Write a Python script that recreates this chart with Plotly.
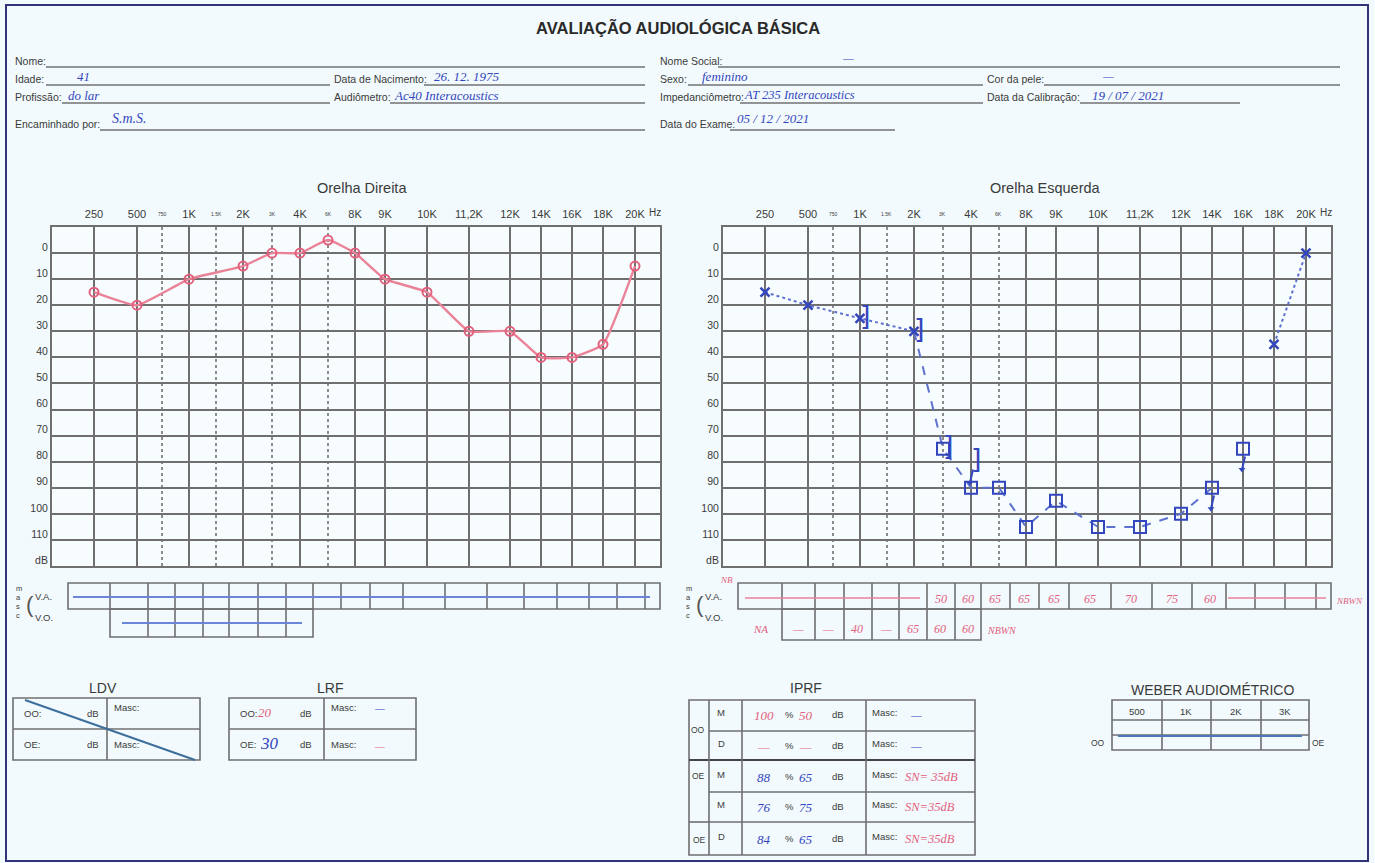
import plotly.graph_objects as go

# ---------------- DATA ----------------
freq_ticks = ["250", "500", "1K", "2K", "4K", "8K", "9K", "10K", "11,2K", "12K", "14K", "16K", "18K", "20K"]
freq_half = ["750", "1.5K", "3K", "6K"]
db_ticks = [-10, 0, 10, 20, 30, 40, 50, 60, 70, 80, 90, 100, 110, 120]
db_text = ["", "0", "10", "20", "30", "40", "50", "60", "70", "80", "90", "100", "110", "dB"]

# Right ear (Orelha Direita) - air conduction, unmasked (O)
od_freqs = ["250", "500", "1K", "2K", "3K", "4K", "6K", "8K", "9K", "10K", "11,2K", "12K", "14K", "16K", "18K", "20K"]
od_air = [15, 20, 10, 5, 0, 0, -5, 0, 10, 15, 30, 30, 40, 40, 35, 5]

# Left ear (Orelha Esquerda)
oe_x_freqs = ["250", "500", "1K", "2K", "18K", "20K"]          # air, unmasked (X)
oe_x_db = [15, 20, 25, 30, 35, 0]
oe_sq_freqs = ["3K", "4K", "6K", "8K", "9K", "10K", "11,2K", "12K", "14K", "16K"]  # air, masked
oe_sq_db = [75, 90, 90, 105, 95, 105, 105, 100, 90, 75]
oe_bc_freqs = ["1K", "2K", "3K", "4K"]                          # bone, masked ( ] )
oe_bc_db = [25, 30, 75, 80]
oe_nr_freqs = ["4K", "14K", "16K"]                              # no response
oe_nr_db = [80, 90, 75]
oe_low_path = ["250", "500", "1K", "2K"]
oe_low_db = [15, 20, 25, 30]
oe_mid_path = ["2K", "3K", "4K", "6K", "8K", "9K", "10K", "11,2K", "12K", "14K"]
oe_mid_db = [30, 75, 90, 90, 105, 95, 105, 105, 100, 90]
oe_high_path = ["18K", "20K"]
oe_high_db = [35, 0]

# ---------------- LAYOUT HELPERS ----------------
W, H = 1375, 863
FPOS = {"250": 42, "500": 85, "750": 110, "1K": 137, "1.5K": 164, "2K": 191, "3K": 220,
        "4K": 248, "6K": 276, "8K": 303, "9K": 333, "10K": 375, "11,2K": 417, "12K": 458,
        "14K": 489, "16K": 520, "18K": 551, "20K": 583}
XR = [0, 608]

RED = "#e2607c"
RED_L = "#ea8298"
BLUE = "#3346bd"
BLUE_L = "#5d72cf"
GRID = "#6f6f6f"
INK = "#3a3a3a"
FORM = "Liberation Sans, Arial, sans-serif"
HAND = "Liberation Serif, DejaVu Serif, serif"


def px(x):
    return x / W


def py(y):
    return 1 - y / H


def fx(names):
    return [FPOS[n] for n in names]


shapes = []
annots = []


def rect(x0, y0, x1, y1, color=GRID, width=1.6):
    shapes.append(dict(type="rect", xref="paper", yref="paper", x0=px(x0), x1=px(x1),
                       y0=py(y1), y1=py(y0), line=dict(color=color, width=width)))


def seg(x0, y0, x1, y1, color=GRID, width=1.6, dash="solid"):
    shapes.append(dict(type="line", xref="paper", yref="paper", x0=px(x0), x1=px(x1),
                       y0=py(y0), y1=py(y1), line=dict(color=color, width=width, dash=dash)))


def txt(x, y, s, size=10, color=INK, family=FORM, anchor="left", style="normal", weight="normal"):
    annots.append(dict(x=px(x), y=py(y), xref="paper", yref="paper", text=s, showarrow=False,
                       xanchor=anchor, yanchor="middle",
                       font=dict(size=size, color=color, family=family, style=style, weight=weight)))


def hand(x, y, s, color=BLUE, size=12, anchor="left"):
    txt(x, y, s, size=size, color=color, family=HAND, anchor=anchor, style="italic")


fig = go.Figure()

# ---------------- AUDIOGRAMS ----------------
fig.add_trace(go.Scatter(x=fx(od_freqs), y=od_air, mode="lines+markers", xaxis="x", yaxis="y",
                         line=dict(color=RED_L, width=2.4, shape="spline", smoothing=0.4),
                         marker=dict(symbol="circle-open", size=9, color=RED, line=dict(width=2, color=RED)),
                         showlegend=False))

fig.add_trace(go.Scatter(x=fx(oe_low_path), y=oe_low_db, mode="lines", xaxis="x2", yaxis="y2",
                         line=dict(color=BLUE_L, width=2, dash="dot"), showlegend=False))
fig.add_trace(go.Scatter(x=fx(oe_mid_path), y=oe_mid_db, mode="lines",
                         xaxis="x2", yaxis="y2", line=dict(color=BLUE_L, width=2, dash="dash"), showlegend=False))
fig.add_trace(go.Scatter(x=fx(oe_high_path), y=oe_high_db, mode="lines", xaxis="x2", yaxis="y2",
                         line=dict(color=BLUE_L, width=2, dash="dot"), showlegend=False))
fig.add_trace(go.Scatter(x=fx(oe_x_freqs), y=oe_x_db, mode="markers", xaxis="x2", yaxis="y2",
                         marker=dict(symbol="x-thin", size=9, line=dict(width=2.5, color=BLUE)),
                         showlegend=False))
fig.add_trace(go.Scatter(x=fx(oe_sq_freqs), y=oe_sq_db, mode="markers", xaxis="x2", yaxis="y2",
                         marker=dict(symbol="square-open", size=12, color=BLUE, line=dict(width=2, color=BLUE)),
                         showlegend=False))
fig.add_trace(go.Scatter(x=fx(oe_bc_freqs), y=oe_bc_db, mode="text", xaxis="x2", yaxis="y2",
                         text=["]"] * len(oe_bc_freqs), textposition="middle right",
                         textfont=dict(size=27, color=BLUE, family="DejaVu Sans"), showlegend=False))
ax, ay, mx, my = [], [], [], []
for f, d in zip(oe_nr_freqs, oe_nr_db):
    ax += [FPOS[f] + 2, FPOS[f] - 1, None]
    ay += [d + 3, d + 8, None]
    mx.append(FPOS[f] - 1)
    my.append(d + 8)
fig.add_trace(go.Scatter(x=ax, y=ay, mode="lines", xaxis="x2", yaxis="y2",
                         line=dict(color=BLUE, width=2), showlegend=False))
fig.add_trace(go.Scatter(x=mx, y=my, mode="markers", xaxis="x2", yaxis="y2",
                         marker=dict(symbol="triangle-down", size=6, color=BLUE), showlegend=False))

GRID_TOP, GRID_BOT = 227, 566


def xaxis(d0, d1, anchor):
    return dict(domain=[px(d0), px(d1)], range=XR, anchor=anchor, side="top",
                tickvals=[FPOS[f] for f in freq_ticks], ticktext=freq_ticks,
                tickfont=dict(size=11, color=INK, family=FORM), ticks="", ticklabelstandoff=3,
                showgrid=True, gridcolor=GRID, gridwidth=1.8, zeroline=False,
                showline=True, linecolor=GRID, linewidth=2, mirror=True, fixedrange=True,
                minor=dict(tickvals=[FPOS[f] for f in freq_half], showgrid=True, griddash="dot",
                           gridcolor="#8c8c8c", gridwidth=1.5))


def yaxis(anchor):
    return dict(domain=[py(GRID_BOT), py(GRID_TOP)], range=[120, -10], anchor=anchor,
                tickvals=db_ticks, ticktext=db_text, tickfont=dict(size=10.5, color=INK, family=FORM),
                ticks="", ticklabelshift=6, showgrid=True, gridcolor=GRID, gridwidth=1.8, zeroline=False,
                showline=True, linecolor=GRID, linewidth=2, mirror=True, fixedrange=True)


layout = dict(
    width=W, height=H, margin=dict(l=0, r=0, t=0, b=0),
    paper_bgcolor="#f2fafd", plot_bgcolor="#f7fcfe",
    xaxis=xaxis(52, 660, "y"), yaxis=yaxis("x"),
    xaxis2=xaxis(723, 1331, "y2"), yaxis2=yaxis("x2"),
)

for base in (52, 723):
    for f in freq_half:
        txt(base + FPOS[f], 214, f, size=5, anchor="center")
    txt(base + 603, 212, "Hz", size=10, anchor="center")
txt(362, 188, "Orelha Direita", size=14.5, anchor="center")
txt(1045, 188, "Orelha Esquerda", size=14.5, anchor="center")

# ---------------- PAGE / HEADER ----------------
rect(6, 5, 1368, 861, color="#33337a", width=2)
txt(678, 28, "AVALIAÇÃO AUDIOLÓGICA BÁSICA", size=16.5, color="#2a2a2a", anchor="center", weight="bold")

UL = "#707070"
txt(13, 61, "Nome:", 10.5); seg(46, 67, 645, 67, UL, 1.3)
txt(13, 79, "Idade:", 10.5); seg(46, 85, 330, 85, UL, 1.3); hand(75, 77, "41", size=13)
txt(332, 79, "Data de Nacimento:", 10.5); seg(424, 85, 645, 85, UL, 1.3); hand(432, 77, "26. 12. 1975", size=13)
txt(13, 97, "Profissão:", 10.5); seg(62, 103, 330, 103, UL, 1.3); hand(66, 95, "do lar", size=13)
txt(332, 97, "Audiômetro:", 10.5); seg(390, 103, 645, 103, UL, 1.3); hand(392, 95, "Ac40 Interacoustics", size=13)
txt(13, 124, "Encaminhado por:", 10.5); seg(100, 130, 645, 130, UL, 1.3); hand(110, 119, "S.m.S.", size=14)

txt(658, 61, "Nome Social:", 10.5); seg(718, 67, 1340, 67, UL, 1.3); hand(840, 58, "—")
txt(658, 79, "Sexo:", 10.5); seg(688, 85, 983, 85, UL, 1.3); hand(700, 77, "feminino", size=13)
txt(985, 79, "Cor da pele:", 10.5); seg(1044, 85, 1340, 85, UL, 1.3); hand(1100, 76, "—")
txt(658, 97, "Impedanciômetro:", 10.5); seg(740, 103, 983, 103, UL, 1.3); hand(742, 95, "AT 235 Interacoustics", size=12.5)
txt(985, 97, "Data da Calibração:", 10.5); seg(1080, 103, 1240, 103, UL, 1.3); hand(1090, 95, "19 / 07 / 2021", size=13)
txt(658, 124, "Data do Exame:", 10.5); seg(730, 130, 895, 130, UL, 1.3); hand(735, 119, "05 / 12 / 2021", size=13)

# ---------------- MASKING BOXES ----------------
def masc_labels(x0):
    for i, ch in enumerate("masc"):
        txt(x0, 588 + i * 9, ch, size=7.5)
    txt(x0 + 10, 604, "(", size=22, color="#555")
    txt(x0 + 19, 596, "V.A.", size=9.5)
    txt(x0 + 19, 617, "V.O.", size=9.5)


masc_labels(14)
rect(68, 583, 660, 609)
for xv in [110, 148, 175, 203, 229, 258, 286, 313, 341, 370, 403, 445, 487, 524, 557, 589, 617, 645]:
    seg(xv, 583, xv, 609)
rect(110, 609, 313, 637)
for xv in [148, 175, 203, 229, 258, 286]:
    seg(xv, 609, xv, 637)
seg(73, 597, 650, 597, "#6b86d6", 2.2)
seg(122, 623, 302, 623, "#6b86d6", 2.2)

masc_labels(684)
rect(738, 583, 1331, 609)
for xv in [782, 815, 844, 872, 899, 927, 955, 981, 1010, 1039, 1069, 1111, 1152, 1192, 1226, 1255, 1285, 1316]:
    seg(xv, 583, xv, 609)
rect(782, 609, 981, 640)
for xv in [815, 844, 872, 899, 927, 955]:
    seg(xv, 609, xv, 640)
seg(745, 598, 920, 598, RED_L, 1.6)
seg(1228, 598, 1326, 598, RED_L, 1.6)
for xv, s in [(941, "50"), (968, "60"), (995, "65"), (1024, "65"), (1054, "65"), (1090, "65"),
              (1131, "70"), (1172, "75"), (1210, "60")]:
    hand(xv, 599, s, color=RED, size=12, anchor="center")
hand(726, 580, "NB", color=RED, size=9, anchor="center")
hand(1334, 601, "NBWN", color=RED, size=9)
hand(760, 629, "NA", color=RED, size=11, anchor="center")
for xv, s in [(798, "—"), (828, "—"), (857, "40"), (886, "—"), (913, "65"), (940, "60"), (968, "60")]:
    hand(xv, 629, s, color=RED, size=12, anchor="center")
hand(985, 630, "NBWN", color=RED, size=10)

# ---------------- LDV ----------------
txt(103, 688, "LDV", size=14, anchor="center")
rect(13, 698, 200, 760); seg(107, 698, 107, 760); seg(13, 729, 200, 729)
txt(22, 713, "OO:", 9.5); txt(85, 713, "dB", 9.5); txt(112, 707, "Masc:", 9.5)
txt(22, 744, "OE:", 9.5); txt(85, 744, "dB", 9.5); txt(112, 744, "Masc:", 9.5)
seg(25, 700, 195, 760, "#3e6f9c", 2)

# ---------------- LRF ----------------
txt(330, 688, "LRF", size=14, anchor="center")
rect(229, 698, 416, 760); seg(324, 698, 324, 760); seg(229, 729, 416, 729)
txt(238, 713, "OO:", 9.5); hand(256, 712, "20", color=RED, size=13); txt(298, 713, "dB", 9.5)
txt(329, 707, "Masc:", 9.5); hand(372, 708, "—", color=BLUE, size=11)
txt(238, 744, "OE:", 9.5); hand(258, 743, "30", color=BLUE, size=17); txt(298, 744, "dB", 9.5)
txt(329, 744, "Masc:", 9.5); hand(372, 746, "—", color=RED, size=11)

# ---------------- IPRF ----------------
txt(806, 688, "IPRF", size=14, anchor="center")
rect(689, 700, 975, 855)
for yv in [731, 792, 822]:
    seg(709, yv, 975, yv)
seg(689, 760, 975, 760, "#444", 2.2)
seg(689, 822, 709, 822)
seg(709, 700, 709, 855); seg(742, 700, 742, 855); seg(866, 700, 866, 855)
txt(698, 730, "OO", 8.5, anchor="center"); txt(698, 776, "OE", 8.5, anchor="center"); txt(699, 840, "OE", 8.5, anchor="center")
rows = [(715, "M", "100", "50", RED, "—", BLUE), (746, "D", "—", "—", RED, "—", BLUE),
        (777, "M", "88", "65", BLUE, "SN= 35dB", RED), (807, "M", "76", "75", BLUE, "SN=35dB", RED),
        (839, "D", "84", "65", BLUE, "SN=35dB", RED)]
for yv, lab, pct, db, c, msk, mc in rows:
    txt(721, yv - 3, lab, 9.5, anchor="center")
    hand(764, yv, pct, color=c, size=13, anchor="center")
    txt(783, yv - 1, "%", 9.5)
    hand(806, yv, db, color=c, size=13, anchor="center")
    txt(830, yv - 1, "dB", 9.5)
    txt(870, yv - 3, "Masc:", 9.5)
    hand(916 if mc == BLUE else 903, yv, msk, color=mc, size=12 if mc == BLUE else 12.5,
         anchor="left" if mc == RED else "center")

# ---------------- WEBER ----------------
txt(1212, 690, "WEBER AUDIOMÉTRICO", size=14, anchor="center")
rect(1112, 700, 1309, 750)
seg(1112, 720, 1309, 720); seg(1112, 735, 1309, 735)
for xv in [1162, 1211, 1261]:
    seg(xv, 700, xv, 750)
for xv, s in [(1137, "500"), (1186, "1K"), (1236, "2K"), (1285, "3K")]:
    txt(xv, 711, s, 9.5, anchor="center")
txt(1098, 743, "OO", 8.5, anchor="center"); txt(1318, 743, "OE", 8.5, anchor="center")
seg(1118, 736, 1302, 736, "#4a78b8", 2.2)

layout["shapes"] = shapes
layout["annotations"] = annots
fig.update_layout(**layout)
fig.write_html("out.html", config={"displayModeBar": False},
               post_script="document.body.style.margin='0';document.body.style.overflow='hidden';")
